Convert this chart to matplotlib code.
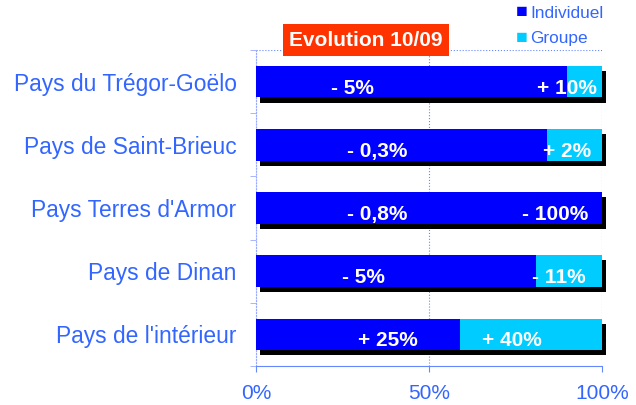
import matplotlib.pyplot as plt
import numpy as np

# Data
pays = ["Pays du Trégor-Goëlo", "Pays de Saint-Brieuc", "Pays Terres d'Armor",
        "Pays de Dinan", "Pays de l'intérieur"]
individuel = [0.90, 0.84, 1.00, 0.81, 0.59]
groupe = [0.10, 0.16, 0.00, 0.19, 0.41]
evol_indiv = ["- 5%", "- 0,3%", "- 0,8%", "- 5%", "+ 25%"]
evol_groupe = ["+ 10%", "+ 2%", "- 100%", "- 11%", "+ 40%"]

plt.rcParams['font.family'] = ['Liberation Sans', 'DejaVu Sans']
txt_blue = "#3366FF"
c_indiv = "#0000FF"
c_groupe = "#00CCFF"

fig = plt.figure(figsize=(6.36, 4.05), dpi=100)
ax = fig.add_axes([0.4025, 0.0963, 0.544, 0.780])

y = np.arange(len(pays))
indiv = np.array(individuel)
grp = np.array(groupe)

# shadow
ax.barh(y + 0.08, indiv + grp, left=0.012, height=0.5, color="black", zorder=2,
        clip_on=False)
ax.barh(y, indiv, height=0.5, color=c_indiv, zorder=3)
ax.barh(y, grp, left=indiv, height=0.5, color=c_groupe, zorder=3)

# label anchors (fraction of axis)
lx_indiv = [0.28, 0.35, 0.35, 0.31, 0.38]
lx_groupe = [0.90, 0.90, 0.865, 0.875, 0.74]
for i in range(len(pays)):
    ax.text(lx_indiv[i], y[i] + 0.1, evol_indiv[i], color="white", fontsize=15,
            fontweight="bold", ha="center", va="center", zorder=4)
    ax.text(lx_groupe[i], y[i] + 0.1, evol_groupe[i], color="white", fontsize=15,
            fontweight="bold", ha="center", va="center", zorder=4)

ax.set_xlim(0, 1)
ax.set_ylim(len(pays) - 0.5, -0.5)
ax.set_xticks([0, 0.5, 1])
ax.set_xticklabels(["0%", "50%", "100%"], color=txt_blue, fontsize=15)
ax.set_yticks(y)
ax.set_yticklabels(pays, color=txt_blue, fontsize=16.4)
ax.tick_params(axis="y", length=0, pad=14)
ax.set_yticks(np.arange(len(pays) + 1) - 0.5, minor=True)
ax.tick_params(axis="y", which="minor", length=4, color="#99AAFF")
ax.tick_params(axis="x", length=4, color="#6688FF", pad=9)
ax.grid(axis="x", color="#6688FF", linestyle=":", linewidth=0.8, zorder=0)
for s in ["top", "right"]:
    ax.spines[s].set_visible(False)
ax.spines["left"].set_color("#99AAFF")
ax.spines["left"].set_linestyle(":")
ax.spines["bottom"].set_color("#6688FF")
ax.axhline(-0.5, color="#6688FF", linestyle=":", linewidth=0.8, zorder=0)

# title box
fig.text(366 / 636, 1 - 40 / 405, "Evolution 10/09", color="white", fontsize=15,
         fontweight="bold", ha="center", va="center",
         bbox=dict(boxstyle="square,pad=0.3", facecolor="#FF3300", edgecolor="none"))

# legend
for k, (lab, col) in enumerate([("Individuel", c_indiv), ("Groupe", c_groupe)]):
    yy = 1 - (13 + 25 * k) / 405
    fig.text(516 / 636, yy, "\u25A0", color=col, fontsize=14, ha="left", va="center")
    fig.text(530 / 636, yy, lab, color=txt_blue, fontsize=12.4, ha="left", va="center")

fig.savefig("out.png", dpi=100)
